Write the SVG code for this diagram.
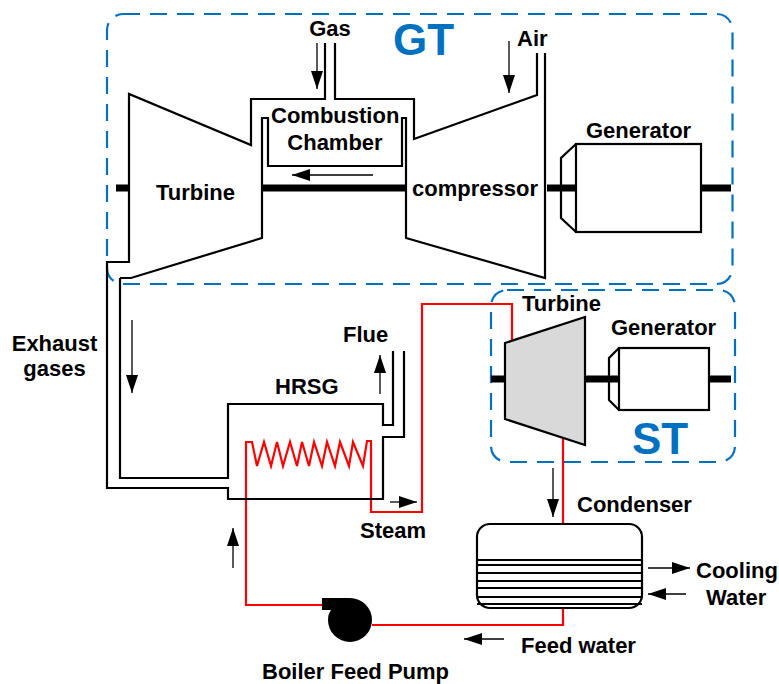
<svg xmlns="http://www.w3.org/2000/svg" width="779" height="684" viewBox="0 0 779 684">
<style>
text{font-family:"Liberation Sans",Arial,sans-serif;font-weight:bold;font-size:22px;fill:#000}
.big{font-size:44px;fill:#0070c0}
.box{fill:none;stroke:#0070c0;stroke-width:2.2;stroke-dasharray:17 10}
.l{fill:none;stroke:#000;stroke-width:2.2;stroke-linejoin:miter}
.shaft{fill:none;stroke:#000;stroke-width:7}
.red{fill:none;stroke:#f00;stroke-width:2.2}
.arr{fill:none;stroke:#000;stroke-width:1.3;marker-end:url(#ah)}
</style>
<defs>
<marker id="ah" markerUnits="userSpaceOnUse" markerWidth="18" markerHeight="12" refX="18" refY="6" orient="auto">
<path d="M0 0L18 6L0 12Z" fill="#000"/>
</marker>
</defs>
<rect width="779" height="684" fill="#fff"/>
<g id="gt-boundary">
<rect class="box" x="107" y="14" width="625.500" height="270" rx="16"/>
<text class="big" x="393" y="55">GT</text>
</g>
<g id="st-boundary">
<rect class="box" x="491" y="290" width="244" height="172" rx="16"/>
<text class="big" x="632" y="454">ST</text>
</g>
<g id="connectors">
<path class="red" d="M563 438V525"/>
<path class="red" d="M512 343V304H422V512H371V441H367L363 466L353 442L349 466L340 442L335 466L327 442L322 466L314 442L309 466L302 442L297 466L290 442L283 466L277 442L271 466L264 442L257 466L252 442H246V605H322"/>
<path class="red" d="M563 608V625H372"/>
<path class="arr" d="M317 43V89"/>
<path class="arr" d="M509 41V93"/>
<path class="arr" d="M373 175H292"/>
<path class="arr" d="M132 320V393"/>
<path class="arr" d="M380 394V355"/>
<path class="arr" d="M390 502H417"/>
<path class="arr" d="M233 568V528"/>
<path class="arr" d="M504 639H464"/>
<path class="arr" d="M553 468V517"/>
<path class="arr" d="M648 568H690"/>
<path class="arr" d="M686 594H648"/>
</g>
<g id="gas-turbine">
<path class="shaft" d="M116 188H129M262 188H406"/>
<path class="l" d="M325 43V99H251V145L129 94V262H107V488H228V499H383V437H404V351"/>
<path class="l" d="M120 278V478H228V404H383V425H393V351"/>
<path class="l" d="M120 278H131L262 238V118H268V166H402V118H406V238L545 278V53"/>
<path class="l" d="M335 43V99H414V139L537 95V53"/>
<text x="156" y="200">Turbine</text>
<text x="330" y="36" text-anchor="middle">Gas</text>
<text x="517" y="46">Air</text>
<text x="412" y="196">compressor</text>
</g>
<g id="combustion-chamber">
<text x="271" y="123">Combustion</text>
<text x="335" y="150" text-anchor="middle">Chamber</text>
</g>
<g id="gt-generator">
<path class="shaft" d="M547 188H576M701 188H731"/>
<rect class="l" x="576" y="144" width="125" height="88"/>
<path class="l" d="M576 144L561 158V218L576 232"/>
<text x="586" y="138">Generator</text>
</g>
<g id="hrsg">
<text x="275" y="394">HRSG</text>
<text x="343" y="342">Flue</text>
<text x="54.500" y="351" text-anchor="middle">Exhaust</text>
<text x="54.500" y="376" text-anchor="middle">gases</text>
<text x="360" y="538">Steam</text>
</g>
<g id="st-turbine">
<path class="shaft" d="M491 379H505M585 379H619"/>
<path d="M505 343L585 317V445L505 419Z" fill="#d9d9d9" stroke="#000" stroke-width="2.2"/>
<text x="522" y="311">Turbine</text>
</g>
<g id="st-generator">
<path class="shaft" d="M709 379H731"/>
<rect class="l" x="619" y="348" width="90" height="62"/>
<path class="l" d="M619 348L609 358V400L619 410"/>
<text x="611" y="335">Generator</text>
</g>
<g id="condenser">
<rect class="l" x="477" y="524" width="165" height="84" rx="13"/>
<path class="l" d="M477 560H642M477 565H642M477 573H642M477 581H642M477 588H642M477 597H642M477 604H642"/>
<text x="577" y="512">Condenser</text>
<text x="696" y="578">Cooling</text>
<text x="706" y="605">Water</text>
<text x="521" y="653">Feed water</text>
</g>
<g id="boiler-feed-pump">
<path d="M322 598H350A22 22 0 1 1 328 620Q328 614 331 610H322Z" fill="#000"/>
<text x="262" y="679">Boiler Feed Pump</text>
</g>
</svg>
